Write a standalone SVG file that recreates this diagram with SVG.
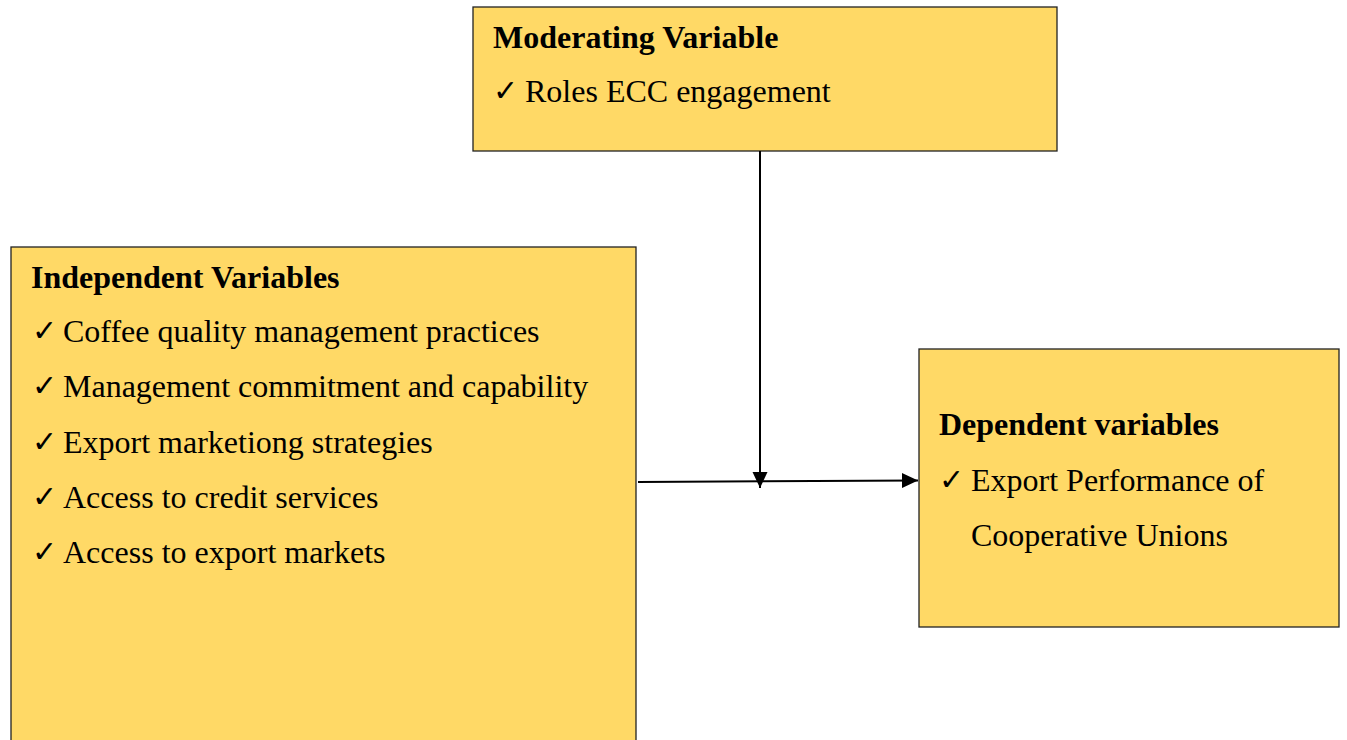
<svg xmlns="http://www.w3.org/2000/svg" width="1347" height="740" viewBox="0 0 1347 740">
  <style>
    .box { fill: #FFD966; stroke: #222; stroke-width: 1.3; }
    .head { font-family: "Liberation Serif", "Times New Roman", serif; font-weight: bold; font-size: 32px; fill: #000; }
    .item { font-family: "Liberation Serif", "Times New Roman", serif; font-size: 32px; fill: #000; }
    .tick { font-family: "DejaVu Sans", sans-serif; font-weight: bold; font-size: 30px; fill: #000; }
    .wire { stroke: #000; stroke-width: 2; fill: none; }
  </style>
  <defs>
    <marker id="arrowBig" markerWidth="16" markerHeight="16" refX="16" refY="8" orient="auto" markerUnits="userSpaceOnUse" viewBox="0 0 16 16">
      <path d="M0,0.5 L16,8 L0,15.5 Z" fill="#000"/>
    </marker>
  </defs>

  <g id="moderating">
    <rect class="box" x="473" y="7" width="584" height="144"/>
    <text class="head" x="493" y="48">Moderating Variable</text>
    <text class="tick" x="493" y="101">✓</text>
    <text class="item" x="525" y="102">Roles ECC engagement</text>
  </g>

  <g id="independent">
    <rect class="box" x="11" y="247" width="625" height="500"/>
    <text class="head" x="31" y="288">Independent Variables</text>
    <text class="tick" x="32" y="341">✓</text>
    <text class="item" x="63" y="342">Coffee quality management practices</text>
    <text class="tick" x="32" y="396">✓</text>
    <text class="item" x="63" y="397">Management commitment and capability</text>
    <text class="tick" x="32" y="452">✓</text>
    <text class="item" x="63" y="453">Export marketiong strategies</text>
    <text class="tick" x="32" y="507">✓</text>
    <text class="item" x="63" y="508">Access to credit services</text>
    <text class="tick" x="32" y="562">✓</text>
    <text class="item" x="63" y="563">Access to export markets</text>
  </g>

  <g id="dependent">
    <rect class="box" x="919" y="349" width="420" height="278"/>
    <text class="head" x="939" y="435">Dependent variables</text>
    <text class="tick" x="939" y="490">✓</text>
    <text class="item" x="971" y="491">Export Performance of</text>
    <text class="item" x="971" y="546">Cooperative Unions</text>
  </g>

  <g id="connectors">
    <line class="wire" x1="760" y1="151" x2="760" y2="488" marker-end="url(#arrowBig)"/>
    <line class="wire" x1="638" y1="482" x2="918" y2="480.5" marker-end="url(#arrowBig)"/>
  </g>
</svg>
